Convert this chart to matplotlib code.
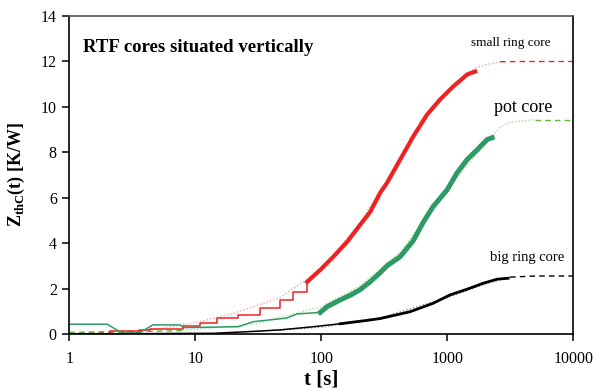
import numpy as np
import matplotlib
matplotlib.use("Agg")
import matplotlib.pyplot as plt

# fonts: Times-like serif everywhere
plt.rcParams["font.family"] = ["Liberation Serif", "DejaVu Serif"]
plt.rcParams["mathtext.fontset"] = "custom"
plt.rcParams["mathtext.rm"] = "Liberation Serif"
plt.rcParams["mathtext.bf"] = "Liberation Serif:bold"

red_t = [1, 2.1, 3.6, 4.4, 8.0, 10.9, 13.8, 14.9, 21.8, 32.6, 47, 59.6, 77, 98,
         124, 160, 203, 244, 293, 332, 422, 535, 690, 875, 1110, 1435, 1660]
red_z = [0.0, 0.13, 0.18, 0.22, 0.35, 0.48, 0.48, 0.70, 0.84, 1.15, 1.50, 1.85,
         2.29, 2.82, 3.39, 4.05, 4.80, 5.37, 6.21, 6.65, 7.67, 8.68, 9.65, 10.31,
         10.88, 11.41, 11.54]

green_t = [1, 2.0, 2.6, 3.6, 4.6, 7.6, 8.0, 22, 28.7, 53, 64, 98, 111, 141, 169,
           203, 244, 293, 332, 422, 535, 641, 770, 995, 1194, 1435, 1722, 2066, 2264]
green_z = [0.43, 0.43, 0.05, 0.05, 0.40, 0.40, 0.28, 0.32, 0.54, 0.70, 0.88, 0.95,
           1.20, 1.50, 1.70, 1.95, 2.30, 2.70, 3.00, 3.40, 4.10, 4.90, 5.60, 6.34,
           7.09, 7.67, 8.10, 8.55, 8.63]

black_t = [1, 13.8, 25.7, 47, 86, 141, 231, 293, 506, 770, 1050, 1435, 1920, 2483, 3030]
black_z = [0.0, 0.03, 0.10, 0.18, 0.32, 0.45, 0.60, 0.68, 0.98, 1.35, 1.72, 1.97,
           2.23, 2.41, 2.45]

# --- fitted curves ---
red_fit_t = [1, 2, 4, 10, 20, 47, 100, 200, 422, 700, 1110, 1660, 2066, 2620, 4000, 10000]
red_fit_z = [0.05, 0.08, 0.13, 0.5, 0.9, 1.6, 2.85, 4.85, 7.7, 9.7, 10.9, 11.7, 11.85,
             11.97, 11.98, 11.98]
red_split = (4, 2620)

green_fit_t = [1, 3, 8, 30, 100, 200, 422, 1000, 2264, 2620, 3143, 4962, 10000]
green_fit_z = [0.07, 0.10, 0.15, 0.45, 1.2, 2.1, 3.6, 6.4, 8.7, 9.1, 9.3, 9.43, 9.43]
green_split = (8, 4962)

black_fit_t = [1, 10, 30, 100, 300, 1000, 2000, 3143, 5000, 10000]
black_fit_z = [0.0, 0.02, 0.1, 0.3, 0.72, 1.6, 2.2, 2.5, 2.55, 2.55]
black_split = (13, 3143)

fig = plt.figure(figsize=(6.03, 3.89), dpi=100)
ax = fig.add_axes([0.115, 0.1414, 0.836, 0.8186])


def draw_fit(t, z, split, dot_col, dash_col):
    t = np.array(t); z = np.array(z)
    lo, hi = split
    mid = (t >= lo) & (t <= hi)
    ax.plot(t[mid], z[mid], color=dot_col, lw=1.0, ls=(0, (1, 1.5)))
    left = t <= lo
    right = t >= hi
    ax.plot(t[left], z[left], color=dash_col, lw=1.0, ls=(0, (4, 3)))
    ax.plot(t[right], z[right], color=dash_col, lw=1.0, ls=(0, (4, 3)))


def draw_meas(t, z, col, t_thick, lw_thick, early_steps=False):
    t = np.array(t); z = np.array(z)
    thin = t <= t_thick
    ax.plot(t[thin], z[thin], color=col, lw=1.1,
            drawstyle="steps-post" if early_steps else "default")
    thick = t >= t[thin][-1]
    ax.plot(t[thick], z[thick], color=col, lw=lw_thick, solid_joinstyle="miter")


draw_fit(red_fit_t, red_fit_z, red_split, "#f5a3a3", "#ee2a24")
draw_fit(green_fit_t, green_fit_z, green_split, "#a8dc98", "#5cb82e")
draw_fit(black_fit_t, black_fit_z, black_split, "#888888", "#000000")

draw_meas(red_t, red_z, "#ee2222", 80, 3.0, early_steps=True)
draw_meas(green_t, green_z, "#2e9a66", 100, 3.6)
draw_meas(black_t, black_z, "#000000", 150, 2.0)

ax.set_xscale("log")
ax.set_xlim(1, 10000)
ax.set_ylim(0, 14)
ax.set_yticks(range(0, 15, 2))
ax.set_xticks([1, 10, 100, 1000, 10000])
ax.set_xticklabels(["1", "10", "100", "1000", "10000"])
ax.minorticks_off()
ax.tick_params(direction="out", length=5, width=1.1, labelsize=11.5, pad=4)
ax.tick_params(axis="x", pad=7)
for s in ax.spines.values():
    s.set_linewidth(1.2)
ax.spines["top"].set_color("#555555")

ax.set_xlabel("t [s]", fontsize=15, fontweight="bold", labelpad=2)
ax.set_ylabel(r"Z$_{\mathbf{thC}}$(t) [K/W]", fontsize=13, fontweight="bold", labelpad=10)

ax.text(0.028, 0.90, "RTF cores situated vertically", transform=ax.transAxes,
        fontsize=13.5, fontweight="bold", va="center", ha="left")
ax.text(3174, 12.8, "small ring core", fontsize=9.5, ha="center", va="center")
ax.text(3990, 9.95, "pot core", fontsize=13, ha="center", va="center")
ax.text(4300, 3.35, "big ring core", fontsize=10.5, ha="center", va="center")

fig.savefig("out.png", dpi=100)
